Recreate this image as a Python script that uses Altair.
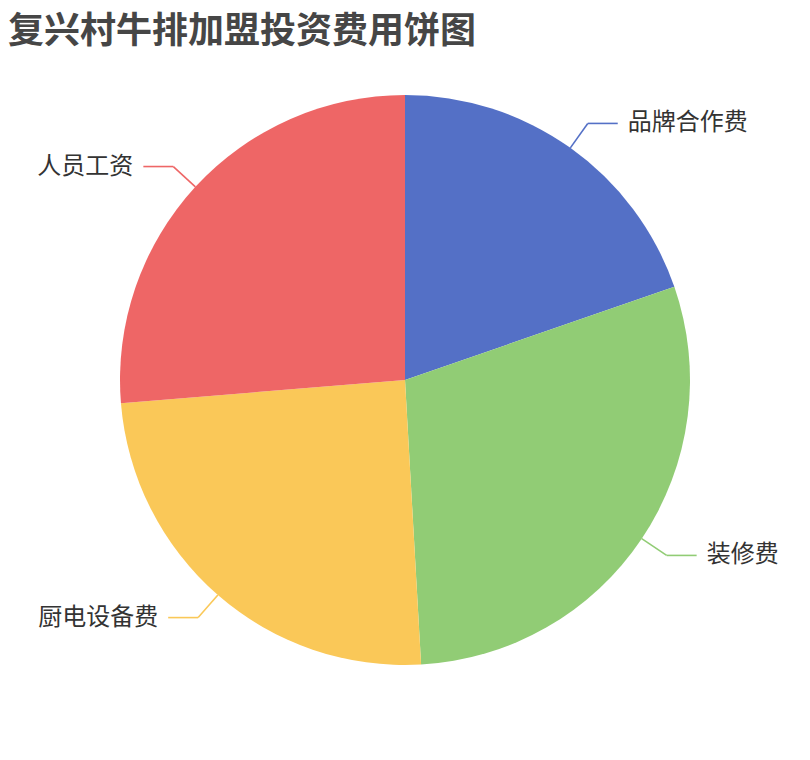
import altair as alt
import pandas as pd

title_text = "复兴村牛排加盟投资费用饼图"
categories = ["品牌合作费", "装修费", "厨电设备费", "人员工资"]
values = [19.7, 29.4, 24.6, 26.3]
colors = ["#5470c6", "#91cc75", "#fac858", "#ee6666"]

W, H = 794, 644
CX, CY = W / 2, H / 2
R = 285
L1 = 30
L2 = 30
GAP = 10

df = pd.DataFrame({"cat": categories, "value": values, "idx": list(range(len(categories)))})

color_enc = alt.Color("cat:N", scale=alt.Scale(domain=categories, range=colors), legend=None)

base = alt.Chart(df)

pie = base.mark_arc(outerRadius=R, stroke=None).encode(
    theta=alt.Theta("value:Q", stack=True),
    order=alt.Order("idx:Q", sort="ascending"),
    color=color_enc,
)

geo = (
    base.transform_joinaggregate(total="sum(value)")
    .transform_window(cum="sum(value)", sort=[alt.SortField("idx")], frame=[None, 0])
    .transform_calculate(mid="(datum.cum - datum.value/2)/datum.total*2*PI")
    .transform_calculate(
        s="sin(datum.mid)",
        c="cos(datum.mid)",
    )
    .transform_calculate(
        ex=f"{CX} + {R}*datum.s",
        ey=f"{CY} - {R}*datum.c",
        bx=f"{CX} + {R + L1}*datum.s",
        by=f"{CY} - {R + L1}*datum.c",
    )
    .transform_calculate(
        hx=f"datum.bx + (datum.s > 0 ? {L2} : -{L2})",
    )
    .transform_calculate(
        tx=f"datum.hx + (datum.s > 0 ? {GAP} : -{GAP})",
    )
)

seg1 = geo.mark_rule(strokeWidth=1.6).encode(
    x=alt.X("ex:Q", scale=None),
    y=alt.Y("ey:Q", scale=None),
    x2="bx:Q",
    y2="by:Q",
    color=color_enc,
)
seg2 = geo.mark_rule(strokeWidth=1.6).encode(
    x=alt.X("bx:Q", scale=None),
    y=alt.Y("by:Q", scale=None),
    x2="hx:Q",
    y2="by:Q",
    color=color_enc,
)

text_props = dict(font="Noto Sans CJK SC", fontSize=24, color="#333333", baseline="middle")
txt_right = geo.transform_filter("datum.s > 0").mark_text(align="left", **text_props).encode(
    x=alt.X("tx:Q", scale=None),
    y=alt.Y("by:Q", scale=None),
    text="cat:N",
)
txt_left = geo.transform_filter("datum.s <= 0").mark_text(align="right", **text_props).encode(
    x=alt.X("tx:Q", scale=None),
    y=alt.Y("by:Q", scale=None),
    text="cat:N",
)

chart = (
    alt.layer(pie, seg1, seg2, txt_right, txt_left)
    .properties(
        width=W,
        height=H,
        title=alt.TitleParams(
            text=title_text,
            anchor="start",
            font="Noto Sans CJK SC",
            fontSize=36,
            fontWeight="bold",
            color="#464646",
            offset=7,
        ),
        autosize=alt.AutoSizeParams(type="none"),
        padding={"left": 0, "top": 50, "right": 0, "bottom": 0},
    )
    .configure_view(stroke=None)
)

chart.save("out.html", embed_options={"renderer": "svg", "actions": False})
